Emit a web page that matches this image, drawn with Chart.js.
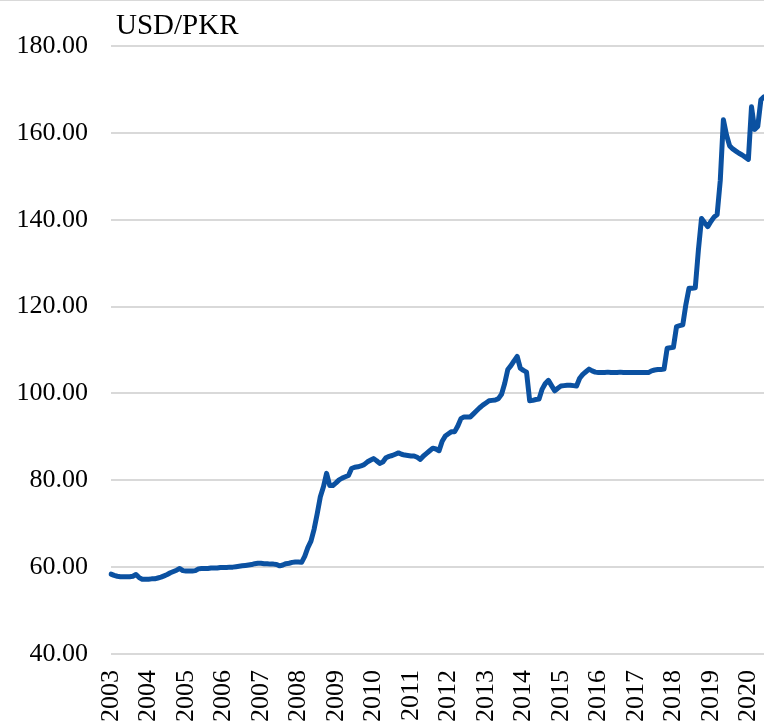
<!DOCTYPE html>
<html>
<head>
<meta charset="utf-8">
<title>USD/PKR</title>
<script src="https://cdn.jsdelivr.net/npm/chart.js@4/dist/chart.umd.min.js"></script>
<style>
    html, body { margin: 0; padding: 0; background: #fff; }
    #box { position: relative; width: 764px; height: 724px; }
    #box:before { content: ''; position: absolute; left: 0; right: 0; top: 0; height: 1px; background: #d9d9d9; }
    #fx { display: block; }
</style>
</head>
<body>
<div id="box"><canvas id="fx" width="764" height="724"></canvas></div>
<script>
// year labels shown on the x axis (one tick per January)
var years = ['2003', '2004', '2005', '2006', '2007', '2008', '2009', '2010', '2011',
    '2012', '2013', '2014', '2015', '2016', '2017', '2018', '2019', '2020'];

// monthly USD/PKR, Jan 2003 .. Jun 2020
var usdPkr = [
    58.4, 58.1, 57.9, 57.8, 57.8, 57.8, 57.8, 57.9, 58.3, 57.6, 57.2, 57.2,          // 2003
    57.2, 57.3, 57.3, 57.5, 57.7, 58.0, 58.3, 58.7, 59.0, 59.3, 59.7, 59.2,          // 2004
    59.1, 59.1, 59.1, 59.2, 59.6, 59.7, 59.7, 59.7, 59.8, 59.8, 59.8, 59.9,          // 2005
    59.9, 59.9, 60.0, 60.0, 60.1, 60.2, 60.3, 60.4, 60.5, 60.6, 60.8, 60.9,          // 2006
    60.9, 60.8, 60.8, 60.7, 60.7, 60.6, 60.3, 60.5, 60.8, 60.9, 61.1, 61.2,          // 2007
    61.2, 61.1, 62.5, 64.5, 66.0, 68.7, 72.3, 76.2, 78.5, 81.6, 78.8, 78.8,          // 2008
    79.4, 80.1, 80.5, 80.8, 81.1, 82.7, 83.0, 83.1, 83.3, 83.6, 84.2, 84.6,          // 2009
    85.0, 84.5, 83.9, 84.2, 85.2, 85.5, 85.7, 86.0, 86.3, 86.0, 85.8, 85.7,          // 2010
    85.6, 85.6, 85.3, 84.8, 85.6, 86.2, 86.8, 87.4, 87.2, 86.8, 89.0, 90.2,          // 2011
    90.7, 91.2, 91.2, 92.5, 94.2, 94.6, 94.6, 94.6, 95.3, 96.0, 96.7, 97.3,          // 2012
    97.8, 98.3, 98.4, 98.5, 98.8, 99.8, 102.3, 105.5, 106.4, 107.5, 108.5, 105.8,    // 2013
    105.3, 104.9, 98.3, 98.4, 98.6, 98.7, 101.0, 102.3, 103.0, 101.8, 100.6, 101.2,  // 2014
    101.7, 101.8, 101.9, 101.9, 101.8, 101.7, 103.5, 104.4, 105.0, 105.6, 105.2, 104.9, // 2015
    104.8, 104.8, 104.8, 104.9, 104.8, 104.8, 104.8, 104.9, 104.8, 104.8, 104.8, 104.8, // 2016
    104.8, 104.8, 104.8, 104.8, 104.8, 105.2, 105.4, 105.5, 105.5, 105.6, 110.4, 110.5, // 2017
    110.6, 115.4, 115.6, 115.8, 120.5, 124.2, 124.2, 124.3, 133.0, 140.3, 139.3, 138.4, // 2018
    139.6, 140.6, 141.2, 149.0, 163.0, 159.5, 157.0, 156.3, 155.8, 155.3, 154.9, 154.4, // 2019
    153.9, 166.0, 160.8, 161.5, 167.6, 168.3                                          // 2020
];

var yTicks = [40, 60, 80, 100, 120, 140, 160, 180];

var months = [];
for (var i = 0; i < usdPkr.length; i++) {
    var m = (i % 12) + 1;
    months.push(years[Math.floor(i / 12)] + '-' + (m < 10 ? '0' + m : m));
}

var serif = 'Liberation Serif';

// title sits just above the plot, next to the top tick
var cornerTitle = {
    id: 'cornerTitle',
    afterDraw: function(chart) {
        var ctx = chart.ctx;
        ctx.save();
        ctx.font = '29px "' + serif + '"';
        ctx.fillStyle = '#000';
        ctx.textBaseline = 'alphabetic';
        ctx.fillText('USD/PKR', chart.chartArea.left + 5, chart.chartArea.top - 12);
        ctx.restore();
    }
};

new Chart(document.getElementById('fx'), {
    type: 'line',
    data: {
        labels: months,
        datasets: [{
            label: 'USD/PKR',
            data: usdPkr,
            borderColor: '#0b51a1',
            borderWidth: 5,
            pointRadius: 0,
            tension: 0,
            borderJoinStyle: 'round',
            borderCapStyle: 'round',
            fill: false
        }]
    },
    options: {
        responsive: false,
        animation: false,
        devicePixelRatio: 1,
        layout: { padding: { left: 0, top: 46, right: 0, bottom: 2 } },
        plugins: {
            legend: { display: false },
            tooltip: { enabled: false }
        },
        scales: {
            x: {
                grid: { display: false },
                border: { display: false },
                // the rotated year labels should not push the plot in from the sides
                afterFit: function(axis) {
                    axis.paddingLeft = 0;
                    axis.paddingRight = 0;
                    axis.height = 68;
                },
                ticks: {
                    autoSkip: false,
                    minRotation: 90,
                    maxRotation: 90,
                    padding: 8,
                    color: '#000',
                    font: { family: serif, size: 26 },
                    callback: function(value) {
                        var lbl = this.getLabelForValue(value);
                        return lbl.slice(5) === '01' ? lbl.slice(0, 4) : '';
                    }
                }
            },
            y: {
                min: 40,
                max: 180,
                afterBuildTicks: function(axis) {
                    axis.ticks = yTicks.map(function(v) { return { value: v }; });
                },
                afterFit: function(axis) {
                    axis.width = 111;
                },
                grid: { color: '#d9d9d9', lineWidth: 2, drawTicks: false },
                border: { display: false },
                ticks: {
                    padding: 23,
                    color: '#000',
                    font: { family: serif, size: 26 },
                    callback: function(value) { return value.toFixed(2); }
                }
            }
        }
    },
    plugins: [cornerTitle]
});
</script>
</body>
</html>
